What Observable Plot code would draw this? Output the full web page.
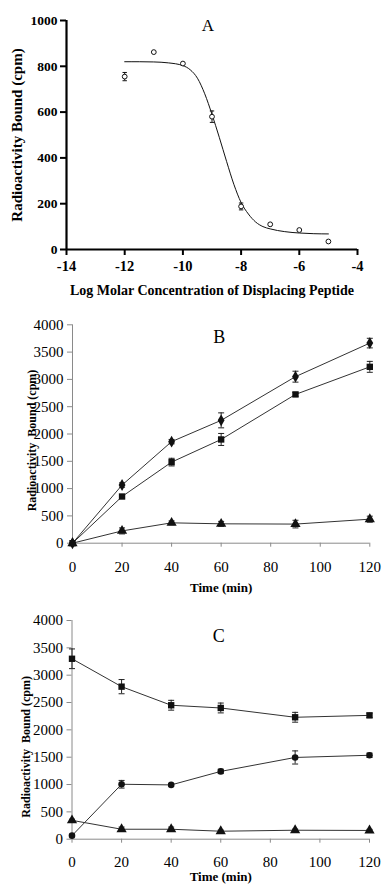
<!DOCTYPE html>
<html>
<head>
<meta charset="utf-8">
<script src="https://cdn.jsdelivr.net/npm/d3@7"></script>
<script src="https://cdn.jsdelivr.net/npm/@observablehq/plot@0.6"></script>
<style>
  html, body { margin: 0; padding: 0; background: white; }
  #wrap { width: 382px; }
  #wrap svg { display: block; }
  #wrap svg.panelA [aria-label$="tick label"] { font-weight: bold; }
</style>
</head>
<body>
<div id="wrap"></div>
<script>
// ---------- Panel A: displacement ----------
const aLogConc = [-12, -11, -10, -9, -8, -7, -6, -5];
const aBound = [755, 862, 812, 580, 188, 110, 85, 35];
const aErr = [18, 0, 0, 25, 15, 0, 0, 0];
const aFitX = [-12, -11.5, -11, -10.5, -10, -9.75, -9.5, -9.25, -9, -8.75, -8.5, -8.25, -8, -7.75, -7.5, -7.25, -7, -6.5, -6, -5.5, -5];
const aFitY = [820, 820, 819, 815, 803, 785, 748, 680, 590, 490, 385, 285, 205, 155, 120, 100, 90, 78, 72, 69, 68];
const aXTicks = [-14, -12, -10, -8, -6, -4];
const aYTicks = [0, 200, 400, 600, 800, 1000];

// ---------- Panel B: association ----------
const bTime = [0, 20, 40, 60, 90, 120];
const bDiamond = [0, 1065, 1860, 2250, 3050, 3665];
const bDiamondErr = [0, 40, 40, 137, 100, 88];
const bSquare = [0, 855, 1485, 1900, 2725, 3230];
const bSquareErr = [0, 30, 70, 110, 35, 100];
const bTriangle = [0, 225, 373, 355, 350, 440];
const bTriangleErr = [0, 55, 35, 45, 70, 55];

// ---------- Panel C: dissociation ----------
const cTime = [0, 20, 40, 60, 90, 120];
const cSquare = [3300, 2790, 2450, 2400, 2230, 2265];
const cSquareErr = [180, 130, 90, 90, 90, 40];
const cCircle = [65, 1005, 993, 1240, 1495, 1535];
const cCircleErr = [0, 70, 20, 40, 120, 40];
const cTriangle = [345, 182, 182, 146, 164, 160];
const cTriangleErr = [20, 40, 40, 20, 20, 20];

const timeTicks = [0, 20, 40, 60, 80, 100, 120];
const countTicks = [0, 500, 1000, 1500, 2000, 2500, 3000, 3500, 4000];

const FONT = "'Liberation Serif', 'Times New Roman', serif";
const YLABEL_A = "Radioactivity Bound (cpm)";
const YLABEL_BC = "Radioactivity  Bound (cpm)";
const XLABEL_A = "Log Molar Concentration of Displacing Peptide";
const XLABEL_BC = "Time (min)";

const plainFormat = d => String(d);

// horizontal cap symbol for error bars
const capSymbol = {
  draw(ctx, size) {
    const r = Math.sqrt(size / Math.PI);
    ctx.moveTo(-r, 0);
    ctx.lineTo(r, 0);
  }
};

function rows(xs, ys, es) {
  return xs.map((x, i) => ({x, y: ys[i], e: es ? es[i] : 0}));
}

function errorMarks(data, capR, color) {
  const d = data.filter(r => r.e > 0);
  return [
    Plot.ruleX(d, {x: "x", y1: r => r.y - r.e, y2: r => r.y + r.e, stroke: color, strokeWidth: 1}),
    Plot.dot(d, {x: "x", y: r => r.y - r.e, symbol: capSymbol, r: capR, stroke: color, strokeWidth: 1, fill: "none"}),
    Plot.dot(d, {x: "x", y: r => r.y + r.e, symbol: capSymbol, r: capR, stroke: color, strokeWidth: 1, fill: "none"})
  ];
}

// ----- Panel A -----
const aData = rows(aLogConc, aBound, aErr);
const aFit = aFitX.map((x, i) => ({x, y: aFitY[i]}));
const plotA = Plot.plot({
  className: "panelA",
  width: 382, height: 300,
  marginLeft: 66, marginRight: 25, marginTop: 20, marginBottom: 51,
  style: {fontFamily: FONT, background: "white", overflow: "visible"},
  x: {domain: [-14, -4]},
  y: {domain: [0, 1000]},
  marks: [
    Plot.axisY({ticks: aYTicks, tickFormat: plainFormat, tickSize: 6, tickPadding: 3, fontSize: 13.5, strokeWidth: 2, label: null}),
    Plot.axisX({ticks: aXTicks, tickFormat: plainFormat, tickSize: 6, tickPadding: 5, fontSize: 14.5, strokeWidth: 2, label: null}),
    Plot.ruleX([-14], {strokeWidth: 2.2}),
    Plot.ruleY([0], {strokeWidth: 2.2}),
    Plot.line(aFit, {x: "x", y: "y", stroke: "#111", strokeWidth: 1, curve: "monotone-x"}),
    ...errorMarks(aData, 2.2, "#111"),
    Plot.dot(aData, {x: "x", y: "y", r: 2.4, stroke: "#111", strokeWidth: 1, fill: "white"}),
    Plot.text(["A"], {frameAnchor: "top", dx: -4, dy: 5, lineAnchor: "middle", fontSize: 17}),
    Plot.text([YLABEL_A], {frameAnchor: "left", dx: -49, rotate: -90, fontSize: 15, fontWeight: "bold", textAnchor: "middle", lineAnchor: "middle"}),
    Plot.text([XLABEL_A], {frameAnchor: "bottom", dy: 41, lineAnchor: "middle", fontSize: 14, fontWeight: "bold"})
  ]
});

function timePlot(opts) {
  const {height, marginLeft, marginRight, marginTop, marginBottom, letter, letterDy, series, ylabDx, ylabDy, xlabDy, tickPad} = opts;
  const marks = [
    Plot.axisY({ticks: countTicks, tickFormat: plainFormat, tickSize: 5, tickPadding: 4, fontSize: 15, stroke: "#8a8a8a", label: null}),
    Plot.axisX({ticks: timeTicks, tickFormat: plainFormat, tickSize: 4, tickPadding: tickPad, fontSize: 15, stroke: "#8a8a8a", label: null}),
    Plot.ruleX([0], {stroke: "#8a8a8a", strokeWidth: 1}),
    Plot.ruleY([0], {stroke: "#8a8a8a", strokeWidth: 1})
  ];
  for (const s of series) {
    marks.push(Plot.line(s.data, {x: "x", y: "y", stroke: "#333", strokeWidth: 1}));
  }
  for (const s of series) {
    marks.push(...errorMarks(s.data, 3, "#222"));
    marks.push(Plot.dot(s.data, {x: "x", y: "y", symbol: s.symbol, r: s.r, fill: "#111", stroke: "none"}));
  }
  marks.push(
    Plot.text([letter], {frameAnchor: "top", dx: -2, dy: letterDy, lineAnchor: "middle", fontSize: 18}),
    Plot.text([YLABEL_BC], {frameAnchor: "left", dx: ylabDx, dy: ylabDy, rotate: -90, fontSize: 12, fontWeight: "bold", textAnchor: "middle", lineAnchor: "middle"}),
    Plot.text([XLABEL_BC], {frameAnchor: "bottom", dy: xlabDy, lineAnchor: "middle", fontSize: 13, fontWeight: "bold"})
  );
  return Plot.plot({
    width: 382, height, marginLeft, marginRight, marginTop, marginBottom,
    style: {fontFamily: FONT, background: "white", overflow: "visible"},
    x: {domain: [0, 120]},
    y: {domain: [0, 4000]},
    marks
  });
}

const plotB = timePlot({
  height: 290, marginLeft: 72, marginRight: 12.7, marginTop: 24.3, marginBottom: 47.3,
  letter: "B", letterDy: 12, ylabDx: -40, ylabDy: 6.5, xlabDy: 44.3, tickPad: 14,
  series: [
    {data: rows(bTime, bTriangle, bTriangleErr), symbol: "triangle", r: 3.8},
    {data: rows(bTime, bDiamond, bDiamondErr), symbol: "diamond", r: 3.6},
    {data: rows(bTime, bSquare, bSquareErr), symbol: "square", r: 3.6}
  ]
});

const plotC = timePlot({
  height: 294, marginLeft: 71.5, marginRight: 13, marginTop: 30, marginBottom: 45.3,
  letter: "C", letterDy: 16, ylabDx: -45.5, ylabDy: 17, xlabDy: 38, tickPad: 13,
  series: [
    {data: rows(cTime, cTriangle, cTriangleErr), symbol: "triangle", r: 3.8},
    {data: rows(cTime, cCircle, cCircleErr), symbol: "circle", r: 3.3},
    {data: rows(cTime, cSquare, cSquareErr), symbol: "square", r: 3.6}
  ]
});

const wrap = document.getElementById("wrap");
wrap.append(plotA, plotB, plotC);
</script>
</body>
</html>
